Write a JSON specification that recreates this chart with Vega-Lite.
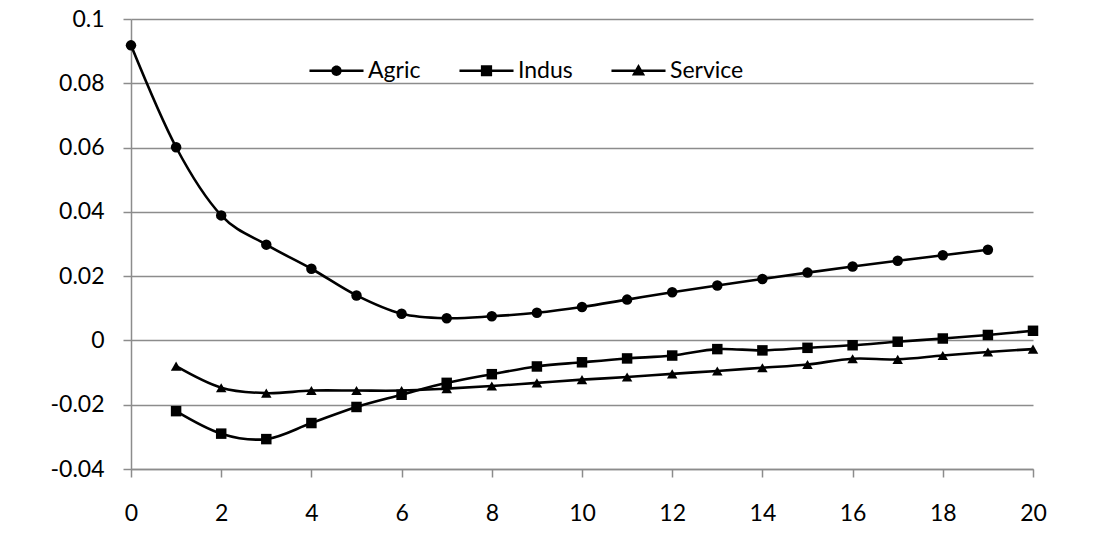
{
  "$schema": "https://vega.github.io/schema/vega-lite/v6.json",
  "autosize": "none",
  "width": 902,
  "height": 450,
  "padding": {"left": 131, "top": 19, "right": 60, "bottom": 72},
  "background": "white",
  "config": {
    "view": {"stroke": null},
    "font": "Lato",
    "axis": {
      "labelFont": "Lato",
      "labelFontSize": 23,
      "labelColor": "#000000",
      "domainColor": "#8c8c8c",
      "domainWidth": 1.5,
      "tickColor": "#8c8c8c",
      "tickWidth": 1.5,
      "tickSize": 8,
      "gridColor": "#8c8c8c",
      "gridWidth": 1.5,
      "title": null
    }
  },
  "data": {
    "values": [
      {"t": 0, "series": "Agric", "v": 0.0918},
      {"t": 1, "series": "Agric", "v": 0.0601},
      {"t": 2, "series": "Agric", "v": 0.0389},
      {"t": 3, "series": "Agric", "v": 0.0298},
      {"t": 4, "series": "Agric", "v": 0.0223},
      {"t": 5, "series": "Agric", "v": 0.0140},
      {"t": 6, "series": "Agric", "v": 0.0083},
      {"t": 7, "series": "Agric", "v": 0.0069},
      {"t": 8, "series": "Agric", "v": 0.0075},
      {"t": 9, "series": "Agric", "v": 0.0086},
      {"t": 10, "series": "Agric", "v": 0.0104},
      {"t": 11, "series": "Agric", "v": 0.0127},
      {"t": 12, "series": "Agric", "v": 0.0150},
      {"t": 13, "series": "Agric", "v": 0.0171},
      {"t": 14, "series": "Agric", "v": 0.0191},
      {"t": 15, "series": "Agric", "v": 0.0211},
      {"t": 16, "series": "Agric", "v": 0.0230},
      {"t": 17, "series": "Agric", "v": 0.0248},
      {"t": 18, "series": "Agric", "v": 0.0265},
      {"t": 19, "series": "Agric", "v": 0.0282},
      {"t": 1, "series": "Indus", "v": -0.0220},
      {"t": 2, "series": "Indus", "v": -0.0290},
      {"t": 3, "series": "Indus", "v": -0.0307},
      {"t": 4, "series": "Indus", "v": -0.0257},
      {"t": 5, "series": "Indus", "v": -0.0207},
      {"t": 6, "series": "Indus", "v": -0.0169},
      {"t": 7, "series": "Indus", "v": -0.0132},
      {"t": 8, "series": "Indus", "v": -0.0105},
      {"t": 9, "series": "Indus", "v": -0.0081},
      {"t": 10, "series": "Indus", "v": -0.0068},
      {"t": 11, "series": "Indus", "v": -0.0056},
      {"t": 12, "series": "Indus", "v": -0.0047},
      {"t": 13, "series": "Indus", "v": -0.0027},
      {"t": 14, "series": "Indus", "v": -0.0031},
      {"t": 15, "series": "Indus", "v": -0.0023},
      {"t": 16, "series": "Indus", "v": -0.0015},
      {"t": 17, "series": "Indus", "v": -0.0004},
      {"t": 18, "series": "Indus", "v": 0.0006},
      {"t": 19, "series": "Indus", "v": 0.0017},
      {"t": 20, "series": "Indus", "v": 0.0030},
      {"t": 1, "series": "Service", "v": -0.0080},
      {"t": 2, "series": "Service", "v": -0.0147},
      {"t": 3, "series": "Service", "v": -0.0164},
      {"t": 4, "series": "Service", "v": -0.0156},
      {"t": 5, "series": "Service", "v": -0.0156},
      {"t": 6, "series": "Service", "v": -0.0156},
      {"t": 7, "series": "Service", "v": -0.0150},
      {"t": 8, "series": "Service", "v": -0.0142},
      {"t": 9, "series": "Service", "v": -0.0132},
      {"t": 10, "series": "Service", "v": -0.0122},
      {"t": 11, "series": "Service", "v": -0.0114},
      {"t": 12, "series": "Service", "v": -0.0104},
      {"t": 13, "series": "Service", "v": -0.0095},
      {"t": 14, "series": "Service", "v": -0.0085},
      {"t": 15, "series": "Service", "v": -0.0075},
      {"t": 16, "series": "Service", "v": -0.0057},
      {"t": 17, "series": "Service", "v": -0.0059},
      {"t": 18, "series": "Service", "v": -0.0047},
      {"t": 19, "series": "Service", "v": -0.0036},
      {"t": 20, "series": "Service", "v": -0.0027}
    ]
  },
  "encoding": {
    "x": {
      "field": "t",
      "type": "quantitative",
      "scale": {"domain": [0, 20], "nice": false, "zero": false},
      "axis": {
        "values": [0, 2, 4, 6, 8, 10, 12, 14, 16, 18, 20],
        "grid": false,
        "labelFlush": false,
        "labelPadding": 25
      }
    },
    "y": {
      "field": "v",
      "type": "quantitative",
      "scale": {"domain": [-0.04, 0.1], "nice": false},
      "axis": {
        "values": [-0.04, -0.02, 0, 0.02, 0.04, 0.06, 0.08, 0.1],
        "grid": true,
        "labelFlush": false,
        "labelPadding": 19,
        "labelExpr": "datum.value == 0 ? '0' : toString(round(datum.value * 100) / 100)"
      }
    }
  },
  "layer": [
    {
      "mark": {"type": "line", "interpolate": "cardinal", "color": "black", "strokeWidth": 2.6},
      "encoding": {"detail": {"field": "series"}}
    },
    {
      "mark": {"type": "point", "filled": true, "color": "black", "opacity": 1, "size": 110},
      "encoding": {
        "shape": {
          "field": "series",
          "type": "nominal",
          "scale": {"domain": ["Agric", "Indus", "Service"], "range": ["circle", "square", "triangle-up"]},
          "legend": null
        }
      }
    },
    {
      "mark": {"type": "point", "filled": true, "color": "black", "opacity": 0, "size": 432},
      "encoding": {
        "shape": {
          "field": "series",
          "type": "nominal",
          "scale": {
            "domain": ["Agric", "Indus", "Service"],
            "range": [
              "M-2.6,-0.12L2.6,-0.12L2.6,0.12L-2.6,0.12ZM-0.5,0A0.5,0.5,0,1,1,0.5,0A0.5,0.5,0,1,1,-0.5,0Z",
              "M-2.6,-0.12L2.6,-0.12L2.6,0.12L-2.6,0.12ZM-0.54,-0.54L0.54,-0.54L0.54,0.54L-0.54,0.54Z",
              "M-2.6,-0.12L2.6,-0.12L2.6,0.12L-2.6,0.12ZM0,-0.64L0.64,0.46L-0.64,0.46Z"
            ]
          },
          "legend": {
            "title": null,
            "orient": "none",
            "direction": "horizontal",
            "legendX": 194,
            "legendY": 40,
            "symbolSize": 432,
            "symbolOpacity": 1,
            "labelFont": "Lato",
            "labelFontSize": 23,
            "labelColor": "#000000",
            "labelOffset": 20,
            "columnPadding": 35,
            "encode": {
              "symbols": {
                "update": {
                  "fill": {"value": "black"},
                  "opacity": {"value": 1}
                }
              }
            }
          }
        }
      }
    }
  ],
  "resolve": {"scale": {"shape": "independent"}}
}
